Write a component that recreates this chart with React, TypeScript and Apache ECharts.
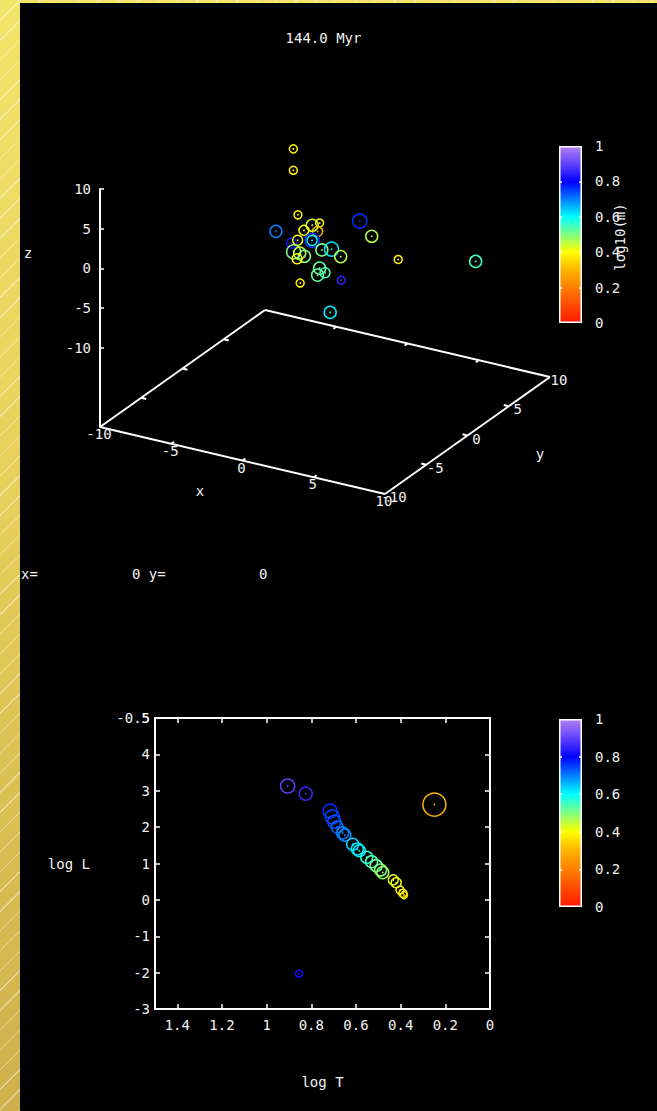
import React, { useEffect, useRef } from "react";
import * as echarts from "echarts";

const W = 657;
const H = 1111;
const FONT_FAMILY = "'DejaVu Sans Mono', monospace";
const FONT_SIZE = 14;
const TXT = "#f2f2f2";

const TITLE = "144.0 Myr";
const CB_TITLE = "log10(m)";

// colour palette of log10(m), from 0 to 1
const PALETTE = ["#ff1a00", "#ff4c00", "#ff8000", "#ffb400", "#ffff00", "#80ff80", "#00ffff", "#0080ff", "#0000ff", "#6040ff", "#b080f0"];

// ---- 3D star positions (pc), log10 mass, radius
const STAR_X = [-2.8, -2.8, -1.9, 0.2, -4.6, 0.7, -0.9, -0.9, -1.1, -0.9, -1.2, -1.2, -2.5, -2.2, -1.2, -2.6, -0.8, -0.8, -0.7, 1.1, 0.2, -1.1, 0.0, 2.3, -2.9, 2.7, 3.4, 7.1, 2.1];
const STAR_Y = [1, 1, 0, -1, 2, 3, 0, -1, 1, 0, 0.5, -2, 1, 0, -1, 2, -2, 1, 2, 0, -1, 1, 0, -2, 2, 1, 3, 6, -3];
const STAR_Z = [10.0, 7.3, 2.8, 3.4, -1.9, 0.9, 1.9, 2.0, 0.3, 0.0, -0.5, 1.0, -1.4, -2.0, -1.0, -4.2, -0.8, -1.9, -2.5, -1.2, -2.3, -5.2, -3.7, -2.2, -7.7, 1.3, -2.8, -3.7, -5.6];
const STAR_LOGM = [0.38, 0.38, 0.38, 0.38, 0.70, 0.76, 0.44, 0.40, 0.30, 0.76, 0.62, 0.82, 0.40, 0.50, 0.45, 0.50, 0.40, 0.50, 0.62, 0.46, 0.52, 0.52, 0.54, 0.85, 0.38, 0.46, 0.38, 0.55, 0.61];
const STAR_R = [4, 4, 4, 4, 6, 7, 6, 5, 5, 7, 5, 5, 5, 7, 6, 6, 5, 6, 7, 6, 6, 6, 5, 4, 4, 6, 4, 6, 6];

// ---- HR diagram
const HR_LOGT = [0.906, 0.825, 0.716, 0.706, 0.697, 0.684, 0.660, 0.650, 0.615, 0.594, 0.585, 0.552, 0.530, 0.510, 0.490, 0.480, 0.433, 0.420, 0.403, 0.390, 0.385, 0.249, 0.855];
const HR_LOGL = [3.13, 2.92, 2.44, 2.28, 2.15, 2.00, 1.84, 1.78, 1.53, 1.40, 1.35, 1.17, 1.05, 0.94, 0.82, 0.75, 0.55, 0.47, 0.27, 0.18, 0.13, 2.62, -2.03];
const HR_LOGM = [0.90, 0.86, 0.76, 0.75, 0.74, 0.72, 0.70, 0.69, 0.64, 0.62, 0.61, 0.57, 0.54, 0.52, 0.50, 0.48, 0.42, 0.41, 0.39, 0.38, 0.37, 0.30, 0.82];
const HR_R = [7, 6.5, 7, 7, 6.5, 6, 6, 6, 6, 6, 6, 6, 6, 6, 6, 6, 5, 5, 4, 4, 3.5, 11.5, 3.5];

// ---- tick values
const XY_TICKS = [-10, -5, 0, 5, 10];
const XY_INNER_TICKS = [-5, 0, 5];
const Z_TICKS = [-10, -5, 0, 5, 10];
const HR_T_TICKS = [0, 0.2, 0.4, 0.6, 0.8, 1, 1.2, 1.4];
const HR_L_TICKS = [-3, -2, -1, 0, 1, 2, 3, 4, 5];
const CB_TICKS = [0, 0.2, 0.4, 0.6, 0.8, 1];
const CB_INNER_TICKS = [0.2, 0.4, 0.6, 0.8];

// ---- 3D view (gnuplot default view, ticslevel 0.5)
const RANGE = 10;
const BASE_Z = -20;
const VIEW = { ox: 100, oy: 427, ex: [14.25, 3.35], ey: [8.25, -5.85], ez: -7.93 };
function proj(x: number, y: number, z: number): [number, number] {
  const a = x + RANGE;
  const b = y + RANGE;
  const c = z - BASE_Z;
  return [VIEW.ox + a * VIEW.ex[0] + b * VIEW.ey[0], VIEW.oy + a * VIEW.ex[1] + b * VIEW.ey[1] + c * VIEW.ez];
}

const font = `${FONT_SIZE}px ${FONT_FAMILY}`;
const labelFont = { color: TXT, fontFamily: FONT_FAMILY, fontSize: FONT_SIZE };

function starRender(params: any, api: any) {
  const p = api.coord([api.value(0), api.value(1)]);
  const r = api.value(3);
  const color = api.visual("color");
  return {
    type: "group",
    children: [
      { type: "circle", shape: { cx: p[0], cy: p[1], r }, style: { fill: "none", stroke: color, lineWidth: 1.5 } },
      { type: "circle", shape: { cx: p[0], cy: p[1], r: 0.9 }, style: { fill: color } },
    ],
  };
}

function buildOption() {
  const R = RANGE;
  const corners = [proj(-R, -R, BASE_Z), proj(R, -R, BASE_Z), proj(R, R, BASE_Z), proj(-R, R, BASE_Z)];
  const edges: any[] = [];
  for (let i = 0; i < 4; i++) edges.push({ coords: [corners[i], corners[(i + 1) % 4]] });
  const tickLen = 0.35;
  XY_INNER_TICKS.forEach((t) => {
    edges.push({ coords: [proj(t, -R, BASE_Z), proj(t, -R + tickLen, BASE_Z)] });
    edges.push({ coords: [proj(t, R, BASE_Z), proj(t, R - tickLen, BASE_Z)] });
    edges.push({ coords: [proj(R, t, BASE_Z), proj(R - tickLen, t, BASE_Z)] });
    edges.push({ coords: [proj(-R, t, BASE_Z), proj(-R + tickLen, t, BASE_Z)] });
  });

  const labels: { p: [number, number]; text: string; dx: number; dy: number }[] = [];
  XY_TICKS.forEach((t) => labels.push({ p: proj(t, -R, BASE_Z), text: String(t), dx: -1, dy: 7 }));
  XY_TICKS.forEach((t) => labels.push({ p: proj(R, t, BASE_Z), text: String(t), dx: 9, dy: 3 }));

  const starData = STAR_X.map((x, i) => {
    const p = proj(x, STAR_Y[i], STAR_Z[i]);
    return [p[0], p[1], STAR_LOGM[i], STAR_R[i]];
  });
  const hrData = HR_LOGT.map((t, i) => [t, HR_LOGL[i], HR_LOGM[i], HR_R[i]]);

  const zTop = proj(-R, -R, 10)[1];
  const zBottom = proj(-R, -R, BASE_Z)[1];

  const gradient = () =>
    new echarts.graphic.LinearGradient(0, 1, 0, 0, PALETTE.map((c, i) => ({ offset: i / (PALETTE.length - 1), color: c })));

  const white = { color: "#ffffff", width: 2 };
  const tickStyle = { color: "#ffffff", width: 1.5 };

  const cbAxes = (gridIndex: number) => [
    {
      gridIndex, type: "value", position: "right", min: 0, max: 1, interval: 0.2, z: 10,
      axisLine: { show: false, onZero: false },
      axisTick: { show: true, inside: true, length: 3, lineStyle: tickStyle, customValues: CB_INNER_TICKS },
      axisLabel: { show: true, margin: 13, ...labelFont, customValues: CB_TICKS },
      splitLine: { show: false },
    },
    {
      gridIndex, type: "value", position: "left", min: 0, max: 1, interval: 0.2, z: 10,
      axisLine: { show: false, onZero: false },
      axisTick: { show: true, inside: true, length: 3, lineStyle: tickStyle, customValues: CB_INNER_TICKS },
      axisLabel: { show: false },
      splitLine: { show: false },
    },
  ];

  const textEl = (text: string, x: number, y: number, align = "left", extra: any = {}) => ({
    type: "text", x, y, z: 20, ...extra,
    style: { text, fill: TXT, font, align, verticalAlign: "middle" },
  });

  return {
    animation: false,
    backgroundColor: "transparent",
    textStyle: { fontFamily: FONT_FAMILY, fontSize: FONT_SIZE, color: TXT },
    grid: [
      { left: 0, top: 0, width: W, height: H },
      { left: VIEW.ox, top: zTop, width: 20, height: zBottom - zTop },
      { left: 155, top: 718, width: 335, height: 291 },
      { left: 559, top: 146, width: 23, height: 177 },
      { left: 559, top: 719, width: 23, height: 188 },
    ],
    xAxis: [
      { gridIndex: 0, type: "value", min: 0, max: W, show: false },
      { gridIndex: 1, type: "value", min: 0, max: 1, show: false },
      {
        gridIndex: 2, type: "value", position: "bottom", min: 0, max: 1.5, inverse: true,
        name: "log T", nameLocation: "middle", nameGap: 66,
        nameTextStyle: labelFont,
        axisLine: { onZero: false, lineStyle: white },
        axisTick: { inside: true, length: 5, lineStyle: tickStyle, customValues: HR_T_TICKS },
        axisLabel: { margin: 9, ...labelFont, customValues: HR_T_TICKS },
        splitLine: { show: false },
      },
      {
        gridIndex: 2, type: "value", position: "top", min: 0, max: 1.5, inverse: true,
        axisLine: { onZero: false, lineStyle: white },
        axisTick: { inside: true, length: 5, lineStyle: tickStyle, customValues: HR_T_TICKS },
        axisLabel: { show: false },
        splitLine: { show: false },
      },
      { gridIndex: 3, type: "category", data: [""], show: false },
      { gridIndex: 4, type: "category", data: [""], show: false },
    ],
    yAxis: [
      { gridIndex: 0, type: "value", min: 0, max: H, inverse: true, show: false },
      {
        gridIndex: 1, type: "value", min: BASE_Z, max: 10, interval: 5,
        axisLine: { show: true, onZero: false, lineStyle: white },
        axisTick: { show: true, inside: true, length: 4, lineStyle: tickStyle, customValues: Z_TICKS },
        axisLabel: { margin: 9, ...labelFont, customValues: Z_TICKS },
        splitLine: { show: false },
      },
      {
        gridIndex: 2, type: "value", position: "left", min: -3, max: 5, interval: 1,
        name: "log L", nameLocation: "middle", nameGap: 65, nameRotate: 0,
        nameTextStyle: labelFont,
        axisLine: { show: true, onZero: false, lineStyle: white },
        axisTick: { show: true, inside: true, length: 5, lineStyle: tickStyle, customValues: HR_L_TICKS },
        axisLabel: { margin: 5, ...labelFont, customValues: HR_L_TICKS },
        splitLine: { show: false },
      },
      {
        gridIndex: 2, type: "value", position: "right", min: -3, max: 5, interval: 1,
        axisLine: { show: true, onZero: false, lineStyle: white },
        axisTick: { show: true, inside: true, length: 5, lineStyle: tickStyle, customValues: HR_L_TICKS },
        axisLabel: { show: false },
        splitLine: { show: false },
      },
      ...cbAxes(3),
      ...cbAxes(4),
    ],
    visualMap: [
      { type: "continuous", show: false, min: 0, max: 1, dimension: 2, seriesIndex: [2, 3], inRange: { color: PALETTE } },
    ],
    series: [
      {
        type: "lines", coordinateSystem: "cartesian2d", xAxisIndex: 0, yAxisIndex: 0,
        data: edges, lineStyle: { color: "#ffffff", width: 2, opacity: 1 }, silent: true,
      },
      {
        type: "custom", xAxisIndex: 0, yAxisIndex: 0, silent: true,
        data: labels.map((l) => [l.p[0], l.p[1]]),
        renderItem: (params: any, api: any) => {
          const c = api.coord([api.value(0), api.value(1)]);
          const l = labels[params.dataIndex];
          return { type: "text", x: c[0] + l.dx, y: c[1] + l.dy, style: { text: l.text, fill: TXT, font, align: "center", verticalAlign: "middle" } };
        },
      },
      { type: "custom", xAxisIndex: 0, yAxisIndex: 0, data: starData, renderItem: starRender, z: 5 },
      { type: "custom", xAxisIndex: 2, yAxisIndex: 2, data: hrData, renderItem: starRender, z: 5 },
      {
        type: "bar", xAxisIndex: 4, yAxisIndex: 4, data: [1], barWidth: "100%",
        itemStyle: { color: gradient(), borderColor: "#ffffff", borderWidth: 1.5 }, silent: true,
      },
      {
        type: "bar", xAxisIndex: 5, yAxisIndex: 6, data: [1], barWidth: "100%",
        itemStyle: { color: gradient(), borderColor: "#ffffff", borderWidth: 1.5 }, silent: true,
      },
    ],
    graphic: [
      textEl(TITLE, 323.5, 38, "center"),
      textEl("z", 28, 253, "center"),
      textEl("x", 200, 491, "center"),
      textEl("y", 540, 454, "center"),
      textEl("x=", 21, 574),
      textEl("0 y=", 132, 574),
      textEl("0", 259, 574),
      textEl("-0.5", 150, 718, "right"),
      textEl(CB_TITLE, 620, 237, "center", { rotation: Math.PI / 2 }),
    ],
  };
}

export default function App() {
  const ref = useRef<HTMLDivElement>(null);
  useEffect(() => {
    const chart = echarts.init(ref.current!, null, { renderer: "svg", width: W, height: H });
    chart.setOption(buildOption() as any);
    return () => chart.dispose();
  }, []);
  return (
    <div
      style={{
        position: "absolute", left: 0, top: 0, width: W, height: H, overflow: "hidden",
        background:
          "repeating-linear-gradient(135deg, rgba(255,255,255,0.45) 0px, rgba(255,255,255,0.45) 1px, rgba(255,255,255,0) 1px, rgba(255,255,255,0) 14px), linear-gradient(180deg, #f3e46a 0%, #e6cf5a 45%, #cfb04c 100%)",
      }}
    >
      <div style={{ position: "absolute", left: 20, top: 3, right: 0, bottom: 0, background: "#000" }} />
      <div ref={ref} style={{ position: "absolute", left: 0, top: 0, width: W, height: H }} />
    </div>
  );
}
